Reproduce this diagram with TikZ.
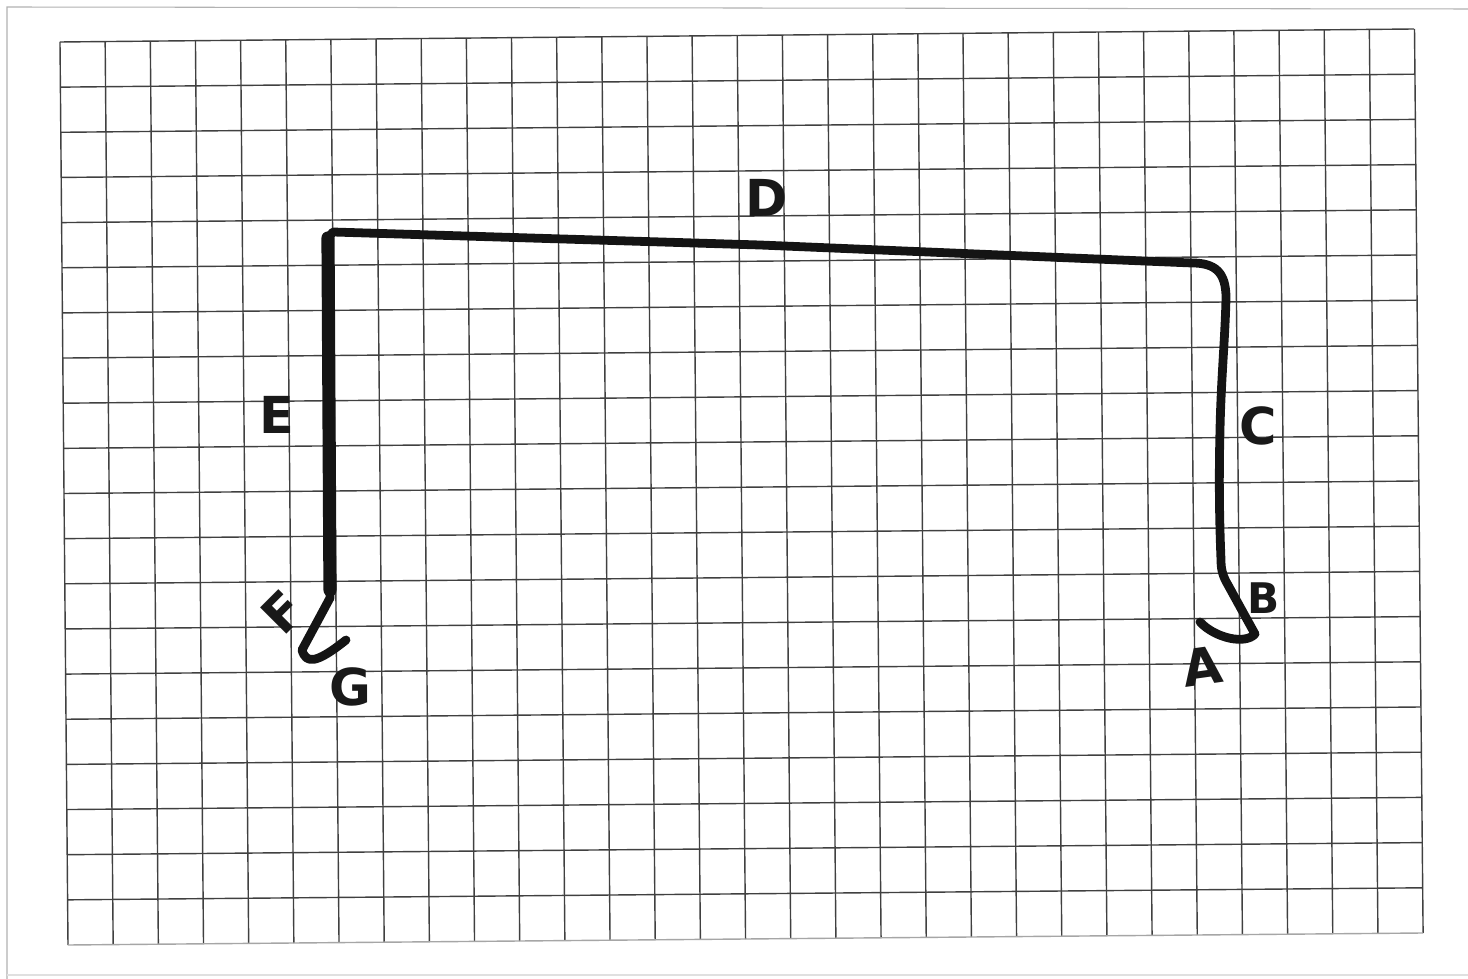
\documentclass[tikz,border=0pt]{standalone}
\usepackage{fontspec}
\setmainfont{DejaVu Sans}
\begin{document}
\begin{tikzpicture}[x=0.02cm,y=-0.02cm,
  gridline/.style={draw=black!75,line width=0.8pt},
  pageedge/.style={draw=black!30,line width=0.6pt},
  stroke/.style={draw=black!92,line width=5pt,line cap=round,line join=round},
  heavy/.style={draw=black!92,line width=7.5pt,line cap=round},
  lbl/.style={inner sep=0pt,text=black!90,font=\fontsize{29}{29}\selectfont\bfseries},
  slbl/.style={inner sep=0pt,text=black!90,font=\fontsize{24}{24}\selectfont\bfseries}]
\useasboundingbox (0,0) rectangle (1468,979);
\fill[white] (0,0) rectangle (1468,979);
% page edges
\draw[pageedge] (7,979) -- (7,7) -- (1468,9);
\draw[pageedge,draw=black!12] (7,975) -- (1468,975);
% grid
\foreach \i in {0,...,30}
  \draw[gridline] ({60+45.15*\i},{42-0.433*\i}) -- ({68+45.17*\i},{945-0.4*\i});
\foreach \j in {0,...,19}
  \draw[gridline] ({60+0.4*\j},{42+45.15*\j}) -- ({1414+0.45*\j},{29+45.2*\j});
\draw[gridline,draw=black!35] (68,945) -- (1423,933);
% path coordinates
\coordinate (pa) at (1200,622);
\coordinate (pb) at (1255,634);
\coordinate (pb2) at (1228,585);
\coordinate (pc1) at (1221,560);
\coordinate (pc2) at (1220,430);
\coordinate (pc3) at (1226,298);
\coordinate (pd1) at (1192,263);
\coordinate (pd2) at (760,245);
\coordinate (pe1) at (333,232);
\coordinate (pe2) at (328,238);
\coordinate (pf1) at (330,598);
\coordinate (pf2) at (302,650);
\coordinate (pg) at (346,640);
% the drawn line
\draw[stroke] (pa) .. controls (1215,638) and (1245,645) .. (pb)
  -- (pb2) .. controls (1222,575) and (1221,568) .. (pc1)
  .. controls (1219,510) and (1219,470) .. (pc2)
  .. controls (1221,380) and (1225,340) .. (pc3)
  .. controls (1226,272) and (1215,263) .. (pd1)
  -- (pd2) -- (pe1) -- (pe2) -- (pf1) -- (pf2)
  .. controls (306,664) and (316,664) .. (pg);
\draw[heavy] (pe2) -- (330,590);
% labels
\node[lbl] (A) at (1202,666) [rotate=8] {A};
\node[slbl] (B) at (1264,598) {B};
\node[lbl] (C) at (1258,426) {C};
\node[lbl] (D) at (767,198) {D};
\node[lbl] (E) at (277,415) {E};
\node[lbl] (F) at (283,612) [rotate=45] {F};
\node[lbl] (G) at (350,687) {G};
\end{tikzpicture}
\end{document}
